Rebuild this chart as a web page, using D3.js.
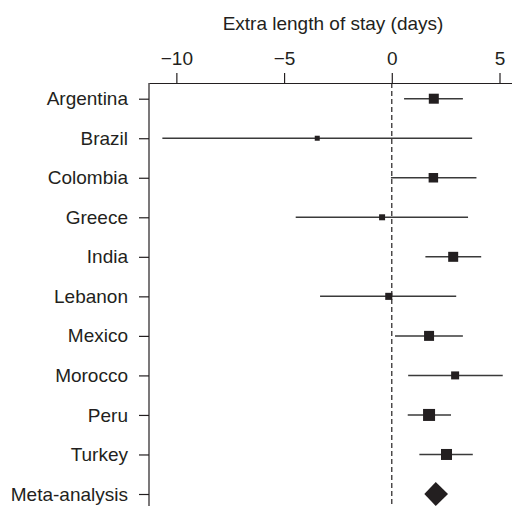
<!DOCTYPE html>
<html>
<head>
<meta charset="utf-8">
<script src="https://cdn.jsdelivr.net/npm/d3@7"></script>
<style>
  body { margin: 0; background: #fff; }
  text { font-family: "Liberation Sans", Arial, sans-serif; fill: #231f20; }
</style>
</head>
<body>
<script>
// studies, top to bottom
const countries = ["Argentina", "Brazil", "Colombia", "Greece", "India", "Lebanon",
                   "Mexico", "Morocco", "Peru", "Turkey", "Meta-analysis"];
const estimate = [1.95, -3.46, 1.93, -0.45, 2.85, -0.14, 1.73, 2.94, 1.73, 2.54, 2.04];
const lower    = [0.57, -10.65, -0.04, -4.46, 1.56, -3.33, 0.15, 0.76, 0.74, 1.28, 1.51];
const upper    = [3.30, 3.73, 3.93, 3.54, 4.15, 2.99, 3.30, 5.15, 2.75, 3.76, 2.61];
const weights  = [100, 25, 90, 36, 100, 50, 100, 64, 144, 121];
const xTicks   = [-10, -5, 0, 5];

const width = 512, height = 506;
const fontSize = "19px";

const svg = d3.select("body")
    .append("svg")
    .attr("width", width)
    .attr("height", height);

const x = d3.scaleLinear()
    .domain([-11.27, 5.58])
    .range([149, 512]);

const y = d3.scalePoint()
    .domain(countries)
    .range([98.7, 494]);

const size = d3.scaleSqrt()
    .domain([0, 144])
    .range([0, 12]);

const axisTopY = 83;

// title
svg.append("text")
    .attr("x", 333)
    .attr("y", 30)
    .attr("text-anchor", "middle")
    .style("font-size", fontSize)
    .text("Extra length of stay (days)");

// top axis
const gx = svg.append("g")
    .attr("transform", `translate(0,${axisTopY})`)
    .call(d3.axisTop(x).tickValues(xTicks).tickSize(10).tickSizeOuter(0).tickPadding(8)
        .tickFormat(d => d < 0 ? "\u2212" + Math.abs(d) : d));
gx.selectAll("path, line").attr("stroke", "#231f20").attr("stroke-width", 1.2);
gx.selectAll("text").style("font-size", fontSize).attr("fill", "#231f20");

// left axis
const gy = svg.append("g")
    .attr("transform", `translate(${x.range()[0]},0)`)
    .call(d3.axisLeft(y).tickSize(10).tickPadding(11));
gy.select(".domain").remove();
gy.selectAll("line").attr("stroke", "#231f20").attr("stroke-width", 1.2);
gy.selectAll("text").style("font-size", fontSize).attr("fill", "#231f20");

svg.append("line")
    .attr("x1", x.range()[0])
    .attr("x2", x.range()[0])
    .attr("y1", axisTopY)
    .attr("y2", height)
    .attr("stroke", "#231f20")
    .attr("stroke-width", 1.2);

// no-effect line
svg.append("line")
    .attr("x1", x(0))
    .attr("x2", x(0))
    .attr("y1", axisTopY)
    .attr("y2", height)
    .attr("stroke", "#231f20")
    .attr("stroke-width", 1.2)
    .attr("stroke-dasharray", "5,3");

const studies = countries.slice(0, -1).map((c, i) => ({
  name: c, est: estimate[i], lo: lower[i], hi: upper[i], w: weights[i]
}));

// confidence intervals
svg.selectAll(".ci")
    .data(studies)
    .enter()
    .append("line")
    .attr("class", "ci")
    .attr("x1", d => x(d.lo))
    .attr("x2", d => x(d.hi))
    .attr("y1", d => y(d.name))
    .attr("y2", d => y(d.name))
    .attr("stroke", "#3a3a3a")
    .attr("stroke-width", 1.5);

// weighted squares
svg.selectAll(".sq")
    .data(studies)
    .enter()
    .append("rect")
    .attr("class", "sq")
    .attr("x", d => x(d.est) - size(d.w) / 2)
    .attr("y", d => y(d.name) - size(d.w) / 2)
    .attr("width", d => size(d.w))
    .attr("height", d => size(d.w))
    .attr("fill", "#231f20");

// pooled estimate diamond
const m = countries.length - 1;
const my = y(countries[m]);
svg.append("path")
    .attr("d", `M${x(lower[m])},${my} L${x(estimate[m])},${my - 12} L${x(upper[m])},${my} L${x(estimate[m])},${my + 12} Z`)
    .attr("fill", "#231f20");
</script>
</body>
</html>
